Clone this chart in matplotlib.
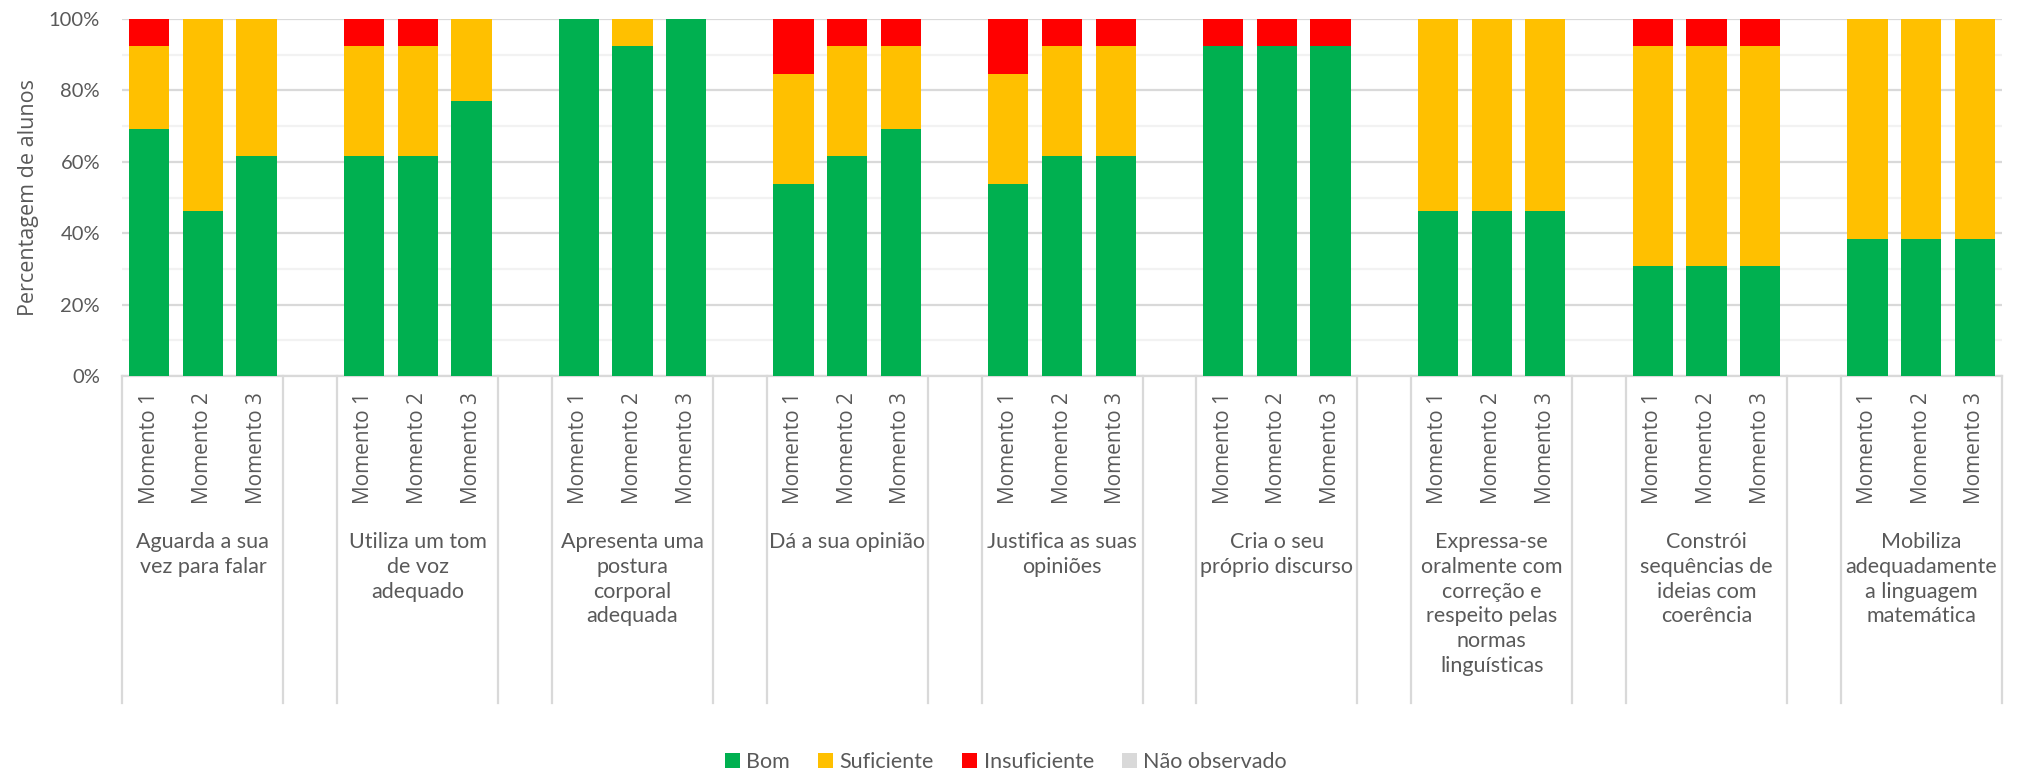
import numpy as np
import matplotlib.pyplot as plt
from matplotlib.patches import Patch
from matplotlib.ticker import MultipleLocator, FuncFormatter

# Competencias avaliadas (rotulos de grupo) e momentos de observacao
groups = [
    "Aguarda a sua\nvez para falar",
    "Utiliza um tom\nde voz\nadequado",
    "Apresenta uma\npostura\ncorporal\nadequada",
    "Dá a sua opinião",
    "Justifica as suas\nopiniões",
    "Cria o seu\npróprio discurso",
    "Expressa-se\noralmente com\ncorreção e\nrespeito pelas\nnormas\nlinguísticas",
    "Constrói\nsequências de\nideias com\ncoerência",
    "Mobiliza\nadequadamente\na linguagem\nmatemática",
]
moments = ["Momento 1", "Momento 2", "Momento 3"]

# Percentagens por momento (3 valores por competencia)
bom = [69.2, 46.2, 61.5,  61.5, 61.5, 76.9,  100.0, 92.3, 100.0,
       53.8, 61.5, 69.2,  53.8, 61.5, 61.5,  92.3, 92.3, 92.3,
       46.2, 46.2, 46.2,  30.8, 30.8, 30.8,  38.5, 38.5, 38.5]
suficiente = [23.1, 53.8, 38.5,  30.8, 30.8, 23.1,  0.0, 7.7, 0.0,
              30.8, 30.8, 23.1,  30.8, 30.8, 30.8,  0.0, 0.0, 0.0,
              53.8, 53.8, 53.8,  61.5, 61.5, 61.5,  61.5, 61.5, 61.5]
insuficiente = [7.7, 0.0, 0.0,  7.7, 7.7, 0.0,  0.0, 0.0, 0.0,
                15.4, 7.7, 7.7,  15.4, 7.7, 7.7,  7.7, 7.7, 7.7,
                0.0, 0.0, 0.0,  7.7, 7.7, 7.7,  0.0, 0.0, 0.0]
nao_observado = [0.0] * 27

series = ["Bom", "Suficiente", "Insuficiente", "Não observado"]
colors = ["#00B050", "#FFC000", "#FF0000", "#D9D9D9"]

TXT = "#595959"
GRID = "#D9D9D9"

fig = plt.figure(figsize=(20.22, 7.75), dpi=100)
ax = fig.add_axes([0.0605, 0.5148, 0.9295, 0.4607])

# uma posicao vazia entre cada grupo de 3 barras
pos = np.array([g * 4 + m for g in range(len(groups)) for m in range(3)])

bottom = np.zeros(len(pos))
for vals, col in zip([bom, suficiente, insuficiente, nao_observado], colors):
    v = np.array(vals)
    ax.bar(pos, v, width=0.75, bottom=bottom, color=col, zorder=3, linewidth=0)
    bottom += v

ax.set_xlim(-0.5, len(groups) * 4 - 1.5)
ax.set_ylim(0, 100)

# grelha principal e secundaria
ax.yaxis.set_major_locator(MultipleLocator(20))
ax.yaxis.set_minor_locator(MultipleLocator(10))
ax.yaxis.set_major_formatter(FuncFormatter(lambda v, p: f"{v:.0f}%"))
ax.grid(axis="y", which="major", color=GRID, lw=1.6, zorder=0)
ax.grid(axis="y", which="minor", color="#F2F2F2", lw=1.6, zorder=0)
ax.tick_params(axis="y", which="both", length=0, pad=16, labelsize=14.5,
               labelcolor=TXT)
for lab in ax.get_yticklabels():
    lab.set_family("Lato")
ax.set_xticks([])

for s in ["left", "right", "top"]:
    ax.spines[s].set_visible(False)
ax.spines["bottom"].set_color(GRID)
ax.spines["bottom"].set_linewidth(1.6)

ax.set_ylabel("Percentagem de alunos", family="Open Sans", fontsize=15.5,
              color=TXT, labelpad=7)

# rotulos de categoria em dois niveis
trans = ax.get_xaxis_transform()
for p, i in zip(pos, range(len(pos))):
    ax.text(p, -0.045, moments[i % 3], rotation=90, ha="center", va="top",
            transform=trans, family="Open Sans", fontsize=15, color=TXT)

for g, name in enumerate(groups):
    ax.text(g * 4 + 1, -0.437, name, ha="center", va="top", transform=trans,
            family="Lato", fontsize=15.5, color=TXT, linespacing=1.3)

# separadores verticais do eixo de categorias
seps = []
for g in range(len(groups)):
    seps += [g * 4 - 0.5, g * 4 + 2.5]
for x in seps:
    ax.plot([x, x], [0, -0.916], transform=trans, color=GRID, lw=1.6,
            clip_on=False)

handles = [Patch(facecolor=c, edgecolor="none") for c in colors]
fig.legend(handles, series, loc="center", bbox_to_anchor=(0.4975, 0.017),
           ncol=4, frameon=False, handlelength=0.7, handleheight=0.7,
           handletextpad=0.3, columnspacing=1.3,
           prop={"family": "Lato", "size": 15.5}, labelcolor=TXT)

fig.savefig("out.png", dpi=100)
